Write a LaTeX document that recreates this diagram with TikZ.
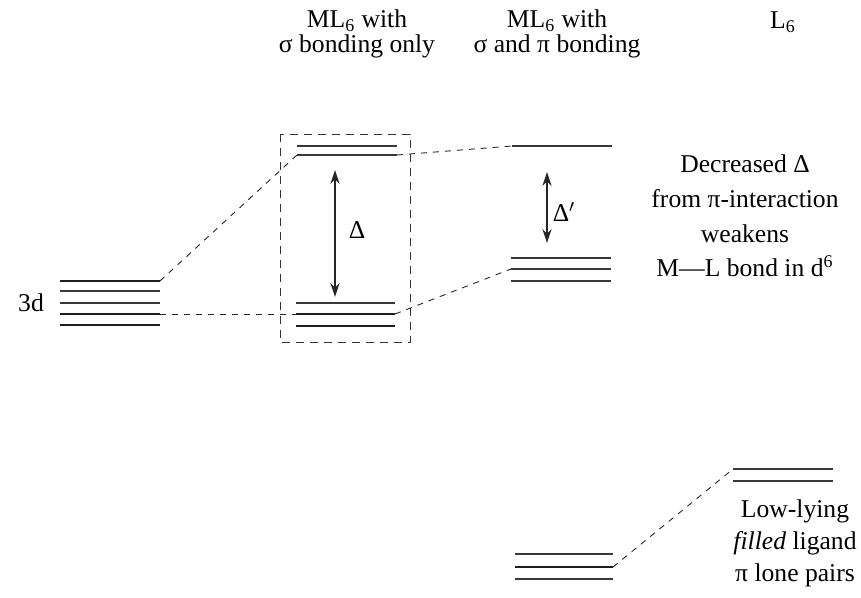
\documentclass[tikz,border=0pt]{standalone}
\usepackage{fontspec}
\setmainfont{Liberation Serif}
\usetikzlibrary{positioning, arrows.meta}

\begin{document}
\begin{tikzpicture}[
  x=0.5pt, y=-0.5pt,
  >={Stealth[length=7pt, width=4.6pt]},
  % --- Styles ---
  thinlvl/.style={line width=0.6pt, black!78},
  thicklvl/.style={line width=1.25pt, black!88},
  corr/.style={line width=0.45pt, black!85, dash pattern=on 3pt off 3pt},
  frame/.style={line width=0.45pt, black!80, dash pattern=on 4pt off 3pt},
  gaparr/.style={<->, line width=0.65pt, black!85},
  hdr/.style={align=center, font=\fontsize{12.8}{12.5}\selectfont},
  note/.style={align=center, font=\fontsize{12.8}{17.3}\selectfont},
  glbl/.style={font=\fontsize{12.8}{15}\selectfont},
]
\useasboundingbox (0,0) rectangle (861,598);

% === HEADINGS ===
\node[hdr] (hSig) at (357,34) {ML\textsubscript{6} with\\σ bonding only};
\node[hdr] (hPi) at (557,34) {ML\textsubscript{6} with\\σ and π bonding};
\node[hdr] (hLig) at (783,22) {L\textsubscript{6}};

% === LEVELS ===
% 1. Metal 3d
\foreach \n/\y/\s in {1/281/thicklvl, 2/291/thinlvl, 3/303/thinlvl, 4/314/thicklvl, 5/325/thicklvl}
  \draw[\s] (60,\y) coordinate (d\n W) -- (160,\y) coordinate (d\n E);
\node[glbl] (l3d) at (31,303) {3d};
% 2. Sigma only: eg and t2g
\foreach \n/\y in {1/146, 2/155}
  \draw[thinlvl] (297,\y) coordinate (se\n W) -- (397,\y) coordinate (se\n E);
\foreach \n/\y/\s in {1/303/thinlvl, 2/314/thicklvl, 3/326/thicklvl}
  \draw[\s] (296,\y) coordinate (st\n W) -- (395,\y) coordinate (st\n E);
% 3. Sigma and pi: eg, t2g, bonding pi
\draw[thinlvl] (512,146) coordinate (peW) -- (612,146) coordinate (peE);
\foreach \n/\y in {1/258, 2/269, 3/281}
  \draw[thinlvl] (511,\y) coordinate (pt\n W) -- (611,\y) coordinate (pt\n E);
\foreach \n/\y/\s in {1/554/thinlvl, 2/567/thicklvl, 3/579/thinlvl}
  \draw[\s] (515,\y) coordinate (pb\n W) -- (613,\y) coordinate (pb\n E);
% 4. Ligand pi lone pairs
\foreach \n/\y in {1/469, 2/481}
  \draw[thinlvl] (733,\y) coordinate (lg\n W) -- (833,\y) coordinate (lg\n E);

% === CORRELATION LINES ===
\draw[corr] (d1E) -- (se2W);
\draw[corr] (d4E) -- (st2W);
\draw[corr] (se2E) -- (peW);
\draw[corr] (st2E) -- (pt2W);
\draw[corr] (pb2E) -- (lg1W);

% Sigma-only frame
\draw[frame] (280,134) rectangle (410,342);

% === SPLITTINGS ===
\coordinate (sigTop) at (335,170);
\coordinate (sigBot) at (335,297);
\coordinate (piTop) at (547,172);
\coordinate (piBot) at (547,243);
\draw[gaparr] (sigTop) -- (sigBot);
\draw[gaparr] (piTop) -- (piBot);
\node[glbl] (lDelta) at (357,230) {Δ};
\node[glbl] (lDeltaP) at (564,212) {Δ$'$};

% === NOTES ===
\node[note] (nWeak) at (745,216) {Decreased Δ\\from π-interaction\\weakens\\M—L bond in d\textsuperscript{6}};
\node[note, font=\fontsize{12.8}{16}\selectfont] (nLow) at (795,543)
  {Low-lying\\\textit{filled} ligand\\π lone pairs};
\end{tikzpicture}
\end{document}
